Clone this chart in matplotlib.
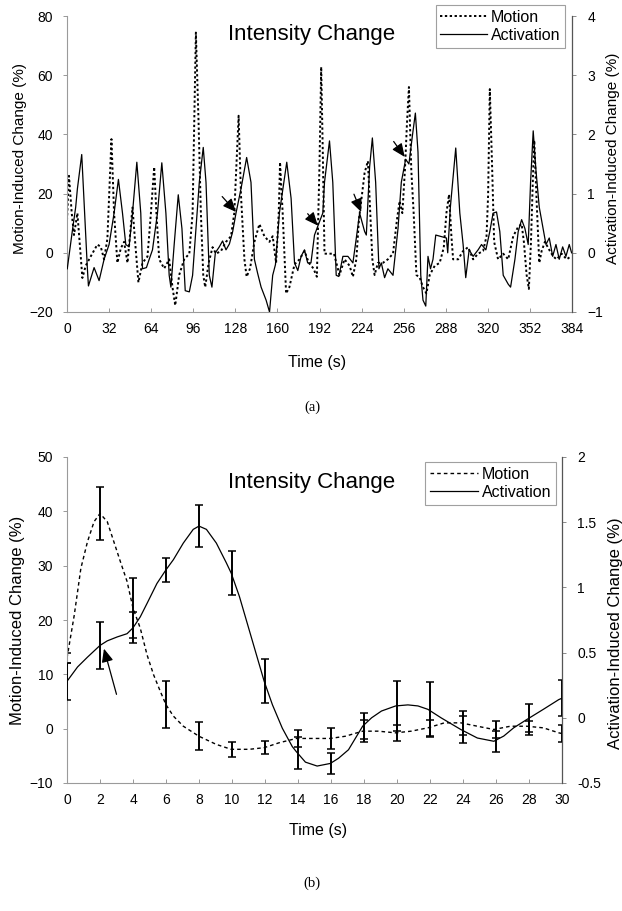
import matplotlib
matplotlib.use("Agg")
import matplotlib.pyplot as plt
import numpy as np

plt.rcParams['font.family'] = ['Liberation Sans', 'DejaVu Sans']

# ---------------- Panel (a) data ----------------
motion_a_t = [0, 1.5, 3.6, 5.3, 7.9, 11.7, 14.2, 18, 23.1, 25.7, 28.2, 30.7, 33.8, 35.8, 38.3, 40.9,
              43.4, 46, 49.8, 51.8, 54.3, 57.4, 61.2, 63.8, 66.3, 68, 70.1, 73.9, 77.7, 80.2, 82.3,
              85.3, 89.1, 93, 95.5, 98, 100, 101.8, 103.6, 105.1, 107.7, 110.7, 113.3, 117.1, 120.9,
              124.7, 127.2, 130.5, 132.3, 134.9, 136.6, 139.2, 142.5, 146.3, 150.1, 153.9, 156.4, 159,
              161, 162, 164, 166.6, 169.1, 173, 176.8, 180.6, 183.9, 187.4, 190, 192, 193.3, 194.5,
              195.8, 199.6, 203, 207.2, 211, 214.9, 217.4, 220, 222, 223.7, 226.3, 228.8, 230.6, 232.2,
              233.9, 236.4, 240.2, 244, 247.9, 250.9, 252.9, 255, 257, 258.5, 260, 261.8, 263.6, 265.7,
              268.2, 270.7, 273.3, 275.8, 279.6, 283.4, 286.5, 288.5, 290.5, 292.3, 293.6, 297.4, 301.2,
              305, 308.8, 312.6, 316.4, 319, 320.2, 321.5, 323.3, 324.8, 327.8, 331.7, 335.5, 339.3,
              343.1, 345.7, 347.4, 349.5, 351.2, 352.8, 354.5, 355.3, 357.1, 359.1, 360.9, 363.4, 367.2,
              369.8, 372.3, 376.1, 380, 383]
motion_a_v = [11, 26, 13.4, 6, 13.4, -8.5, -4.4, -1.25, 2.8, 2, -2.2, 4.7, 38.4, 13.4, -3.4, 1.5,
              3.7, -3.4, 15.3, 3.7, -10, -3.4, -1.25, 13.4, 29, 13.4, -2.2, -5.3, -2.2, -11.6, -17.8,
              -7.5, -2.2, -0.3, 13.4, 74.4, 44.7, 13.4, -7.5, -11.6, -3.4, 1.9, -0.3, 0.6, 3.7,
              5.6, 13.4, 46.3, 19.4, -2.2, -8.1, -5.3, 3.7, 9.7, 5.6, 3.7, 5.6, -3.4,
              13.4, 30.6, 13.4, -13.75, -11.6, -3.9, -2.2, 0.6, -3.4, -5.3, -8.1, 30, 62.8, 34,
              -0.3, -0.3, -0.3, -7.5, -2.2, -4.4, -8.1, -2.2, 11.2, 17.5, 27, 31, 13.4, -2.2,
              -7.5, -3.4, -3.4, -2.2, -0.3, 11.2, 17.5, 13.4, 28.3, 43.7, 56, 28, 13.4, -7.5,
              -8.4, -11.6, -13.75, -7.5, -4.4, -3.4, 1.8, 13.4, 19.7, 5.6, -2.2, -2.2, 0.6,
              1.9, -2.2, -0.3, 0.6, 5.6, 19.4, 55.3, 28.3, 3.7, -2.2, -0.3, -2.2, 5.6,
              8.8, 9.7, 3.7, -7.5, -12.2, 3.7, 28.3, 38, 17.5, -3.4, 0.6, 3.7, 0.6,
              -1.25, -2.2, -0.3, -2.2, -1.25]

act_a_t = [0.2, 4, 6.6, 7.9, 11.2, 15.5, 16.3, 20.6, 24.4, 28.2, 32, 35.8, 39.1, 42.2, 44.7, 47.2,
           49.8, 53.1, 56.1, 57.4, 60.4, 62.5, 65, 68.8, 72.1, 75.2, 77.7, 79, 81.5, 84.6, 87.4, 89.9,
           93, 95.5, 100.6, 103.6, 105.7, 108.2, 110.2, 112.8, 115.8, 118.3, 120.9, 123.5, 126, 128.5,
           132.3, 136.6, 139.9, 142.5, 145, 147.6, 151.4, 154, 156.4, 158.5, 161.5, 167.1, 170.4, 173,
           175.5, 178, 180.6, 183, 185.5, 188.2, 190.7, 194.5, 195.8, 199.6, 202.1, 204.7, 206.7,
           209.8, 213.6, 217.4, 220, 222.5, 226.3, 227.6, 230.1, 232.2, 234.7, 237.2, 239, 241.5, 244,
           247.9, 251.7, 254.2, 257.5, 260, 262.6, 264.9, 266.9, 269, 270.7, 272.8, 274.5, 276.4,
           278.3, 280.4, 288.5, 289.5, 291.5, 295.6, 298.7, 301.2, 303.2, 305.8, 308.8, 312.6, 315.2,
           318.5, 321.5, 324, 326.6, 329.1, 331.7, 335.5, 337.3, 340.6, 343.1, 345.7, 348.2, 350.7,
           352.5, 354.5, 356.6, 359.1, 361.7, 364.2, 366.7, 369.3, 371.8, 374.3, 376.9, 379.4, 381.9,
           383.7]
act_a_v = [-0.27, 0.36, 0.77, 1.08, 1.66, -0.27, -0.56, -0.25, -0.47, -0.11, 0.14, 0.67, 1.24, 0.67, 0.14, 0.1,
           0.67, 1.53, 0.67, -0.27, -0.25, -0.11, 0.05, 0.67, 1.52, 0.67, -0.38, -0.58, 0.14, 0.98, 0.41, -0.64,
           -0.66, -0.38, 1.19, 1.78, 1.19, -0.38, -0.58, 0.0, 0.1, 0.2, 0.05, 0.15, 0.36, 0.67,
           1.08, 1.61, 1.19, -0.11, -0.35, -0.58, -0.8, -1.0, -0.38, -0.2, 0.67, 1.53, 0.92, -0.17,
           -0.3, -0.06, 0.05, -0.17, -0.17, 0.3, 0.45, 0.67, 1.19, 1.89, 1.19, -0.38, -0.4,
           -0.06, -0.06, -0.17, 0.25, 0.67, 0.36, 0.3, 1.45, 1.94, 1.19, -0.27, -0.17, -0.42, -0.27,
           -0.38, 0.41, 1.19, 1.58, 1.5, 1.97, 2.36, 1.7, -0.38, -0.8, -0.9, -0.06, -0.27,
           -0.11, 0.3, 0.25, 0.0, 0.77, 1.77, 0.67, 0.14, -0.42, 0.05, -0.06, 0.05, 0.14,
           0.05, 0.36, 0.67, 0.69, 0.36, -0.38, -0.53, -0.58, -0.11, 0.36, 0.56, 0.41, 0.14,
           1.19, 2.06, 1.39, 0.77, 0.45, 0.14, 0.25, -0.06, 0.14, -0.11, 0.1, -0.06, 0.14,
           0.0]

# arrows in panel (a): (tail_t, tail_act, head_t, head_act)
arrows_a = [(118, 0.95, 128.5, 0.69), (183, 0.66, 190.7, 0.46),
            (218.2, 0.99, 223.7, 0.69), (248.4, 1.88, 256.8, 1.62)]

xticks_a = list(range(0, 385, 32))
yticks_a_left = [-20, 0, 20, 40, 60, 80]
yticks_a_right = [-1, 0, 1, 2, 3, 4]

# ---------------- Panel (b) data ----------------
motion_b_t = [0, 0.44, 0.84, 1.24, 1.64, 2.0, 2.44, 2.84, 3.24, 3.64, 4.0, 4.44, 4.85, 5.25, 5.65, 6.0,
              6.45, 7.05, 8.0, 9.05, 9.95, 11.05, 11.95, 12.85, 13.9, 14.85, 15.96, 16.86, 17.92, 18.86,
              19.92, 20.86, 21.87, 22.87, 23.87, 24.87, 25.87, 26.87, 27.87, 28.87, 29.81, 30]
motion_b_v = [13.0, 20.9, 29.5, 34.4, 38.1, 39.6, 38.1, 34.4, 30.7, 27.1, 22.2, 18.5, 13.6, 9.9, 6.9, 4.4,
              2.3, 0.45, -1.4, -2.9, -3.8, -3.8, -3.5, -2.6, -1.8, -1.8, -1.8, -1.4, -0.46, -0.46,
              -0.77, -0.46, 0.15, 1.07, 1.07, 0.45, -0.15, 0.45, 0.45, 0.15, -0.77, -0.9]

act_b_t = [0, 0.64, 1.24, 2.0, 2.44, 3.04, 3.64, 4.0, 4.44, 4.85, 5.45, 6.0, 6.45, 7.05, 7.65, 8.0,
           8.45, 9.05, 9.65, 9.95, 10.45, 11.05, 11.65, 11.95, 12.45, 13.05, 13.65, 13.9, 14.45, 15.16,
           15.96, 16.46, 17.06, 17.92, 18.46, 19.06, 19.92, 20.66, 21.27, 21.87, 22.67, 23.87, 24.87,
           25.87, 26.47, 27.07, 27.87, 28.87, 29.81, 30]
act_b_v = [0.28, 0.39, 0.465, 0.555, 0.59, 0.62, 0.645, 0.69, 0.774, 0.877, 1.03, 1.135, 1.213, 1.34, 1.445, 1.47,
           1.445, 1.34, 1.19, 1.11, 0.93, 0.67, 0.41, 0.28, 0.10, -0.08, -0.22, -0.26, -0.34, -0.37,
           -0.35, -0.31, -0.245, -0.064, 0.0, 0.052, 0.091, 0.099, 0.091, 0.065, 0.0, -0.09, -0.155,
           -0.18, -0.14, -0.077, -0.013, 0.065, 0.14, 0.15]

err_t = [0, 2, 4, 6, 8, 10, 12, 14, 16, 18, 20, 22, 24, 26, 28, 30]
motion_mean = [13.0, 39.6, 22.2, 4.4, -1.4, -3.8, -3.5, -1.8, -1.8, -0.46, -0.77, 0.15, 1.07, -0.15, 0.45, -0.9]
motion_err = [1.0, 4.8, 5.6, 4.3, 2.6, 1.35, 1.2, 1.5, 2.0, 2.0, 1.5, 1.5, 2.2, 1.5, 1.0, 1.5]
act_mean = [0.28, 0.555, 0.69, 1.135, 1.47, 1.11, 0.28, -0.27, -0.35, -0.06, 0.09, 0.065, -0.09, -0.18, -0.013, 0.15]
act_err = [0.14, 0.18, 0.12, 0.09, 0.16, 0.17, 0.17, 0.12, 0.08, 0.10, 0.19, 0.21, 0.10, 0.08, 0.12, 0.14]

arrow_b = (3.0, 0.18, 2.24, 0.53)

xticks_b = list(range(0, 31, 2))
yticks_b_left = [-10, 0, 10, 20, 30, 40, 50]
yticks_b_right = [-0.5, 0, 0.5, 1, 1.5, 2]
yticklabels_b_right = ['-0.5', '0', '0.5', '1', '1.5', '2']

# ---------------- Figure ----------------
W, H = 622, 911
fig = plt.figure(figsize=(W / 100, H / 100), dpi=100)


def fig_rect(x0, x1, ytop, ybot):
    return [x0 / W, 1 - ybot / H, (x1 - x0) / W, (ybot - ytop) / H]


TICK_FS = 10
XLAB_FS = 11.5
LEG_FS = 11.5
TITLE_FS = 16


def style_axes(ax, ax2):
    for a in (ax, ax2):
        a.spines['top'].set_visible(False)
    ax.spines['left'].set_color('#9a9a9a')
    ax.spines['bottom'].set_color('#9a9a9a')
    ax.spines['left'].set_linewidth(0.8)
    ax.spines['bottom'].set_linewidth(0.8)
    ax2.spines['left'].set_visible(False)
    ax2.spines['bottom'].set_visible(False)
    ax2.spines['right'].set_color('#555555')
    ax2.spines['right'].set_linewidth(0.8)
    ax.tick_params(axis='y', direction='out', length=3, width=0.6, color='#888888',
                   labelsize=TICK_FS, pad=7)
    ax.tick_params(axis='x', direction='in', length=3, width=0.6, color='#888888',
                   labelsize=TICK_FS, pad=7)
    ax2.tick_params(axis='y', direction='out', length=3, width=0.6, color='#777777',
                    labelsize=TICK_FS, pad=8)


arrow_props = dict(arrowstyle='-|>,head_length=0.8,head_width=0.35',
                   color='black', lw=0.9, shrinkA=0, shrinkB=0)

# ---- panel (a)
axa = fig.add_axes(fig_rect(67, 572, 16, 312))
axa2 = axa.twinx()
l1, = axa.plot(motion_a_t, motion_a_v, color='black', lw=1.4, linestyle=(0, (1.2, 1.3)),
               label='Motion')
l2, = axa2.plot(act_a_t, act_a_v, color='black', lw=0.9, label='Activation')
axa.set_xlim(0, 384)
axa.set_ylim(-20, 80)
axa2.set_ylim(-1, 4)
axa.set_xticks(xticks_a)
axa.set_yticks(yticks_a_left)
axa2.set_yticks(yticks_a_right)
style_axes(axa, axa2)
axa.set_xlabel('Time (s)', fontsize=XLAB_FS)
axa.xaxis.set_label_coords(0.496, -0.145)
axa.set_ylabel('Motion-Induced Change (%)', fontsize=11)
axa.yaxis.set_label_coords(-0.079, 0.52)
axa2.set_ylabel('Activation-Induced Change (%)', fontsize=11, rotation=90)
axa2.yaxis.set_label_coords(1.068, 0.52)
axa.text(0.485, 0.939, 'Intensity Change', transform=axa.transAxes, fontsize=TITLE_FS,
         ha='center', va='center')
for tx, ty, hx, hy in arrows_a:
    axa2.annotate('', xy=(hx, hy), xytext=(tx, ty), arrowprops=arrow_props)
leg = axa2.legend([l1, l2], ['Motion', 'Activation'], loc='upper right',
                  bbox_to_anchor=(565 / W, 1 - 5 / H), bbox_transform=fig.transFigure,
                  fontsize=LEG_FS, frameon=True, fancybox=False, handlelength=2.9,
                  handletextpad=0.25, borderpad=0.3, labelspacing=0.2, borderaxespad=0)
leg.get_frame().set_edgecolor('#888888')
leg.get_frame().set_linewidth(0.8)
fig.text(312 / W, 1 - 407 / H, '(a)', fontsize=10.5, family=['Liberation Serif'],
         ha='center', va='center')

# ---- panel (b)
axb = fig.add_axes(fig_rect(67, 562, 457, 783))
axb2 = axb.twinx()
m1, = axb.plot(motion_b_t, motion_b_v, color='black', lw=1.0, linestyle=(0, (2.6, 2.2)),
               label='Motion')
m2, = axb2.plot(act_b_t, act_b_v, color='black', lw=0.9, label='Activation')
axb.errorbar(err_t, motion_mean, yerr=motion_err, fmt='none', ecolor='black',
             elinewidth=1.4, capsize=2.6, capthick=1.1)
axb2.errorbar(err_t, act_mean, yerr=act_err, fmt='none', ecolor='black',
              elinewidth=1.4, capsize=2.6, capthick=1.1)
axb.set_xlim(0, 30)
axb.set_ylim(-10, 50)
axb2.set_ylim(-0.5, 2)
axb.set_xticks(xticks_b)
axb.set_yticks(yticks_b_left)
axb2.set_yticks(yticks_b_right)
axb2.set_yticklabels(yticklabels_b_right)
style_axes(axb, axb2)
axb.set_xlabel('Time (s)', fontsize=XLAB_FS)
axb.xaxis.set_label_coords(0.507, -0.123)
axb.set_ylabel('Motion-Induced Change (%)', fontsize=12)
axb.yaxis.set_label_coords(-0.085, 0.5)
axb2.set_ylabel('Activation-Induced Change (%)', fontsize=12, rotation=90)
axb2.yaxis.set_label_coords(1.092, 0.46)
axb.text(0.495, 0.923, 'Intensity Change', transform=axb.transAxes, fontsize=TITLE_FS,
         ha='center', va='center')
tx, ty, hx, hy = arrow_b
axb2.annotate('', xy=(hx, hy), xytext=(tx, ty), arrowprops=arrow_props)
legb = axb2.legend([m1, m2], ['Motion', 'Activation'], loc='upper right',
                   bbox_to_anchor=(556 / W, 1 - 462 / H), bbox_transform=fig.transFigure,
                   fontsize=LEG_FS, frameon=True, fancybox=False, handlelength=3.0,
                   handletextpad=0.25, borderpad=0.3, labelspacing=0.2, borderaxespad=0)
legb.get_frame().set_edgecolor('#888888')
legb.get_frame().set_linewidth(0.8)
fig.text(312 / W, 1 - 883 / H, '(b)', fontsize=10.5, family=['Liberation Serif'],
         ha='center', va='center')

fig.savefig('out.png', dpi=100)
